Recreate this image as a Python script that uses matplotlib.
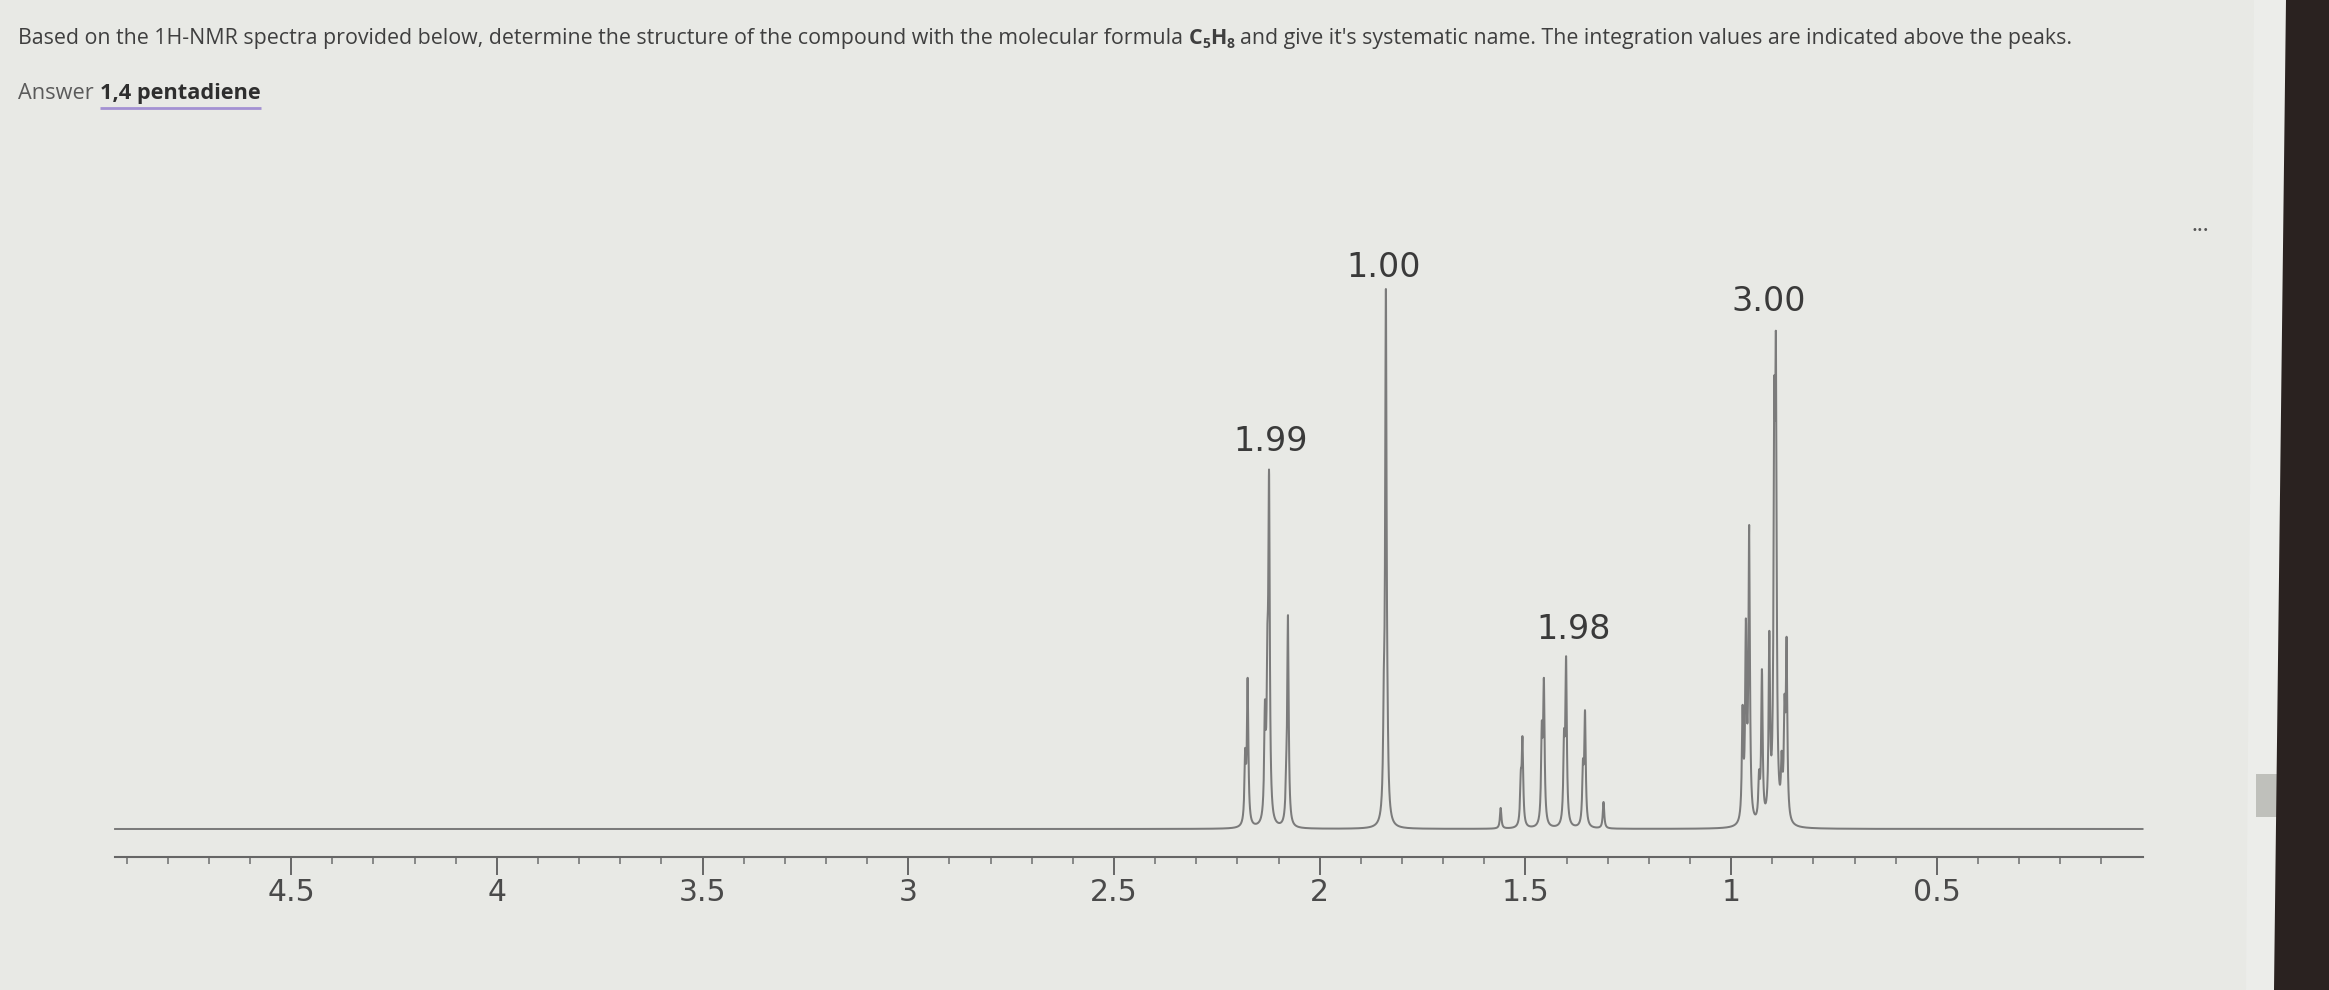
import numpy as np
import matplotlib
matplotlib.use('Agg')
import matplotlib.pyplot as plt
from matplotlib import font_manager as fm
from matplotlib.patches import Polygon, Rectangle
from matplotlib.ticker import FixedLocator

W, H, DPI = 2329, 990, 100

# ---------------- data ----------------
tick_values = [4.5, 4.0, 3.5, 3.0, 2.5, 2.0, 1.5, 1.0, 0.5]
tick_labels = ['4.5', '4', '3.5', '3', '2.5', '2', '1.5', '1', '0.5']

# line positions (ppm) and heights (relative to tallest line) of each multiplet
m199_ppm = [2.181, 2.175, 2.133, 2.127, 2.123, 2.081, 2.077]
m199_h = [0.15, 0.280, 0.24, 0.38, 0.665, 0.14, 0.396]
s100_ppm = [1.844, 1.839, 1.835]
s100_h = [0.30, 1.0, 0.27]
m198_ppm = [1.560, 1.511, 1.507, 1.460, 1.455, 1.406, 1.401, 1.360, 1.355, 1.310]
m198_h = [0.039, 0.11, 0.172, 0.20, 0.280, 0.185, 0.320, 0.13, 0.220, 0.050]
m300_ppm = [0.972, 0.964, 0.956, 0.932, 0.925, 0.907, 0.895, 0.891, 0.877, 0.870, 0.865]
m300_h = [0.23, 0.39, 0.563, 0.11, 0.296, 0.367, 0.835, 0.92, 0.145, 0.25, 0.356]

integral_labels = ['1.99', '1.00', '1.98', '3.00']
integral_ppm = [2.119, 1.844, 1.383, 0.909]
integral_y = [0.717, 1.039, 0.369, 0.977]

header_a = "Based on the 1H-NMR spectra provided below, determine the structure of the compound with the molecular formula"
header_b = "and give it's systematic name. The integration values are indicated above the peaks."
answer_label = "Answer"
answer_text = "1,4 pentadiene"

# ---------------- fonts ----------------
avail = {f.name for f in fm.fontManager.ttflist}
def pick(*names):
    for n in names:
        if n in avail:
            return n
    return 'DejaVu Sans'
head_font = pick('Liberation Sans Narrow', 'Open Sans', 'Noto Sans')
num_font = 'DejaVu Sans'

BG = '#e8e9e5'
fig = plt.figure(figsize=(W / DPI, H / DPI), dpi=DPI, facecolor=BG)
bg = fig.add_axes([0, 0, 1, 1], zorder=0)
bg.set_xlim(0, W)
bg.set_ylim(H, 0)
bg.axis('off')

# screen edge / scroll track
bg.add_patch(Polygon([(2254, 0), (2286, 0), (2274, H), (2246, H)], closed=True,
                     facecolor='#ecedea', edgecolor='none'))
bg.add_patch(Rectangle((2256, 774), 21, 43, facecolor='#bfc0bb', edgecolor='none'))
bg.add_patch(Polygon([(2286, 0), (W, 0), (W, H), (2274, H)], closed=True,
                     facecolor='#2a2220', edgecolor='none'))
bg.text(2200, 230, '\u2022\u2022\u2022', fontsize=7, color='#555555', ha='center', va='center',
        family='DejaVu Sans')

# ---------------- spectrum ----------------
px_left, px_right = 115, 2142.5
px_axis, px_top = 857, 289
ax = fig.add_axes([px_left / W, (H - px_axis) / H, (px_right - px_left) / W, (px_axis - px_top) / H],
                  zorder=2)
ax.patch.set_alpha(0)
xmax, xmin = 4.928, 0.0
ax.set_xlim(xmax, xmin)
ax.set_ylim(-28 / 540, 1.0)

ppm_all = np.array(m199_ppm + s100_ppm + m198_ppm + m300_ppm)
h_all = np.array(m199_h + s100_h + m198_h + m300_h)
gamma = 0.0021
def lor(d):
    return 1.0 / (1.0 + (d / gamma) ** 2)
A = lor(ppm_all[:, None] - ppm_all[None, :])
amp = np.linalg.solve(A, h_all)
xs = np.union1d(np.arange(xmin, xmax, 0.0003), ppm_all)
ys = (amp[None, :] * lor(xs[:, None] - ppm_all[None, :])).sum(axis=1)
ax.plot(xs, ys, color='#7b7b7b', lw=1.45, solid_joinstyle='round', clip_on=False)

for s, p, yv in zip(integral_labels, integral_ppm, integral_y):
    ax.text(p, yv, s, ha='center', va='center', fontsize=24, color='#3a3a3a', family=num_font)

for side in ['left', 'right', 'top']:
    ax.spines[side].set_visible(False)
ax.spines['bottom'].set_color('#666666')
ax.spines['bottom'].set_linewidth(1.5)
ax.set_yticks([])
ax.xaxis.set_major_locator(FixedLocator(tick_values))
ax.set_xticklabels(tick_labels)
minor = [round(v, 1) for v in np.arange(0.1, 4.95, 0.1)
         if all(abs(v - t) > 1e-6 for t in tick_values)]
ax.xaxis.set_minor_locator(FixedLocator(minor))
ax.tick_params(axis='x', which='major', length=13, width=1.4, color='#666666', pad=2,
               labelsize=21.5, labelcolor='#4a4a4a')
ax.tick_params(axis='x', which='minor', length=5, width=1.2, color='#777777')
for lab in ax.get_xticklabels():
    lab.set_family(num_font)

# ---------------- header text ----------------
renderer = fig.canvas.get_renderer()
PT = DPI / 72.0

def draw_runs(runs, x0, ybase, size):
    arts = []
    x = x0
    for txt, weight, rel, dy, color, gap in runs:
        t = bg.text(x, ybase + dy * size * PT, txt, fontsize=size * rel, fontweight=weight,
                    color=color, family=[head_font, 'DejaVu Sans'], ha='left', va='baseline')
        bb = t.get_window_extent(renderer)
        x += bb.width + gap * size * PT
        arts.append(t)
    return arts, x

def fit_runs(runs, x0, ybase, right, size0):
    arts, xe = draw_runs(runs, x0, ybase, size0)
    for a in arts:
        a.remove()
    size = size0 * (right - x0) / (xe - x0)
    return draw_runs(runs, x0, ybase, size)

HC = '#3f3f3f'
header_runs = [
    (header_a, 'normal', 1.0, 0.0, HC, 0.26),
    ('C', 'bold', 1.0, 0.0, HC, 0.0),
    ('5', 'bold', 0.65, 0.18, HC, 0.0),
    ('H', 'bold', 1.0, 0.0, HC, 0.0),
    ('8', 'bold', 0.65, 0.18, HC, 0.26),
    (header_b, 'normal', 1.0, 0.0, HC, 0.0),
]
fit_runs(header_runs, 18, 44, 2065, 15)

answer_runs = [
    (answer_label, 'normal', 1.0, 0.0, '#5a5a5a', 0.3),
    (answer_text, 'bold', 1.0, 0.0, '#2e2e2e', 0.0),
]
arts, xe = fit_runs(answer_runs, 18, 99, 261, 15)
bb = arts[1].get_window_extent(renderer)
bg.plot([bb.x0, bb.x1], [108, 108], color='#a391d2', lw=2.0, solid_capstyle='butt')

fig.savefig('out.png', dpi=DPI, facecolor=BG)
